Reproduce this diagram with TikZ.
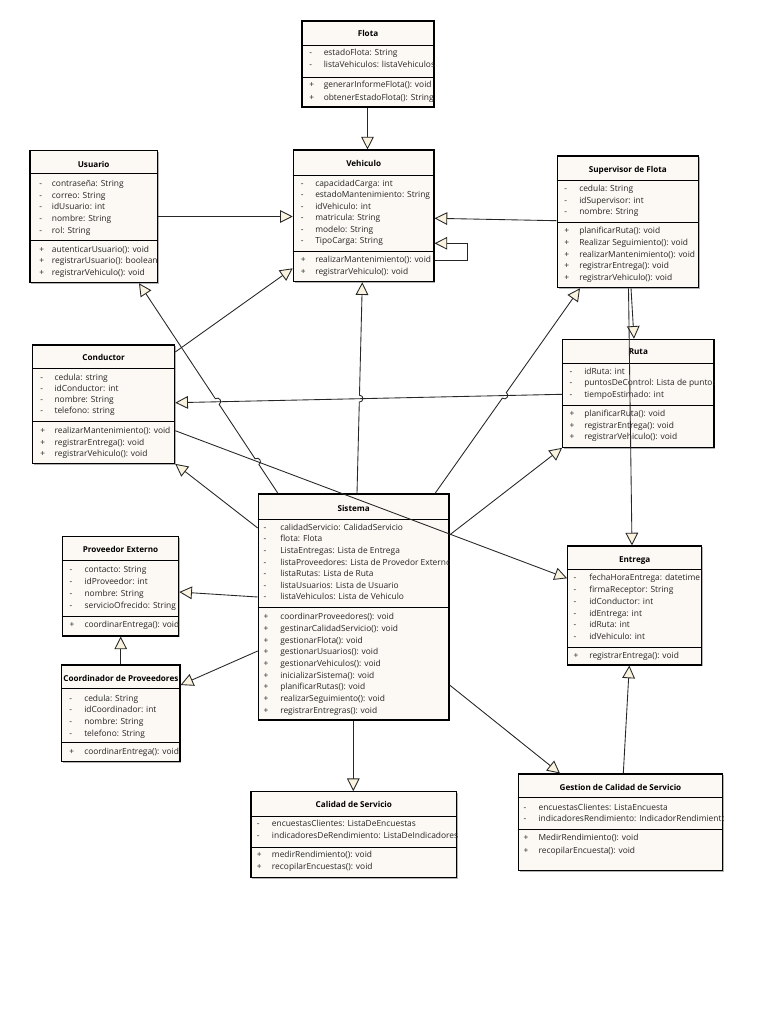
\documentclass[tikz,border=0pt]{standalone}
\usepackage{fontspec}
\setmainfont{Open Sans}
\usetikzlibrary{arrows.meta,calc,fit,shadows}
\definecolor{boxfill}{HTML}{FCF9F4}
\definecolor{arrowfill}{HTML}{FAF3DF}
\definecolor{txtc}{HTML}{262626}
\tikzset{
  classbox/.style={draw=black, line width=0.85pt, fill=boxfill, inner sep=0pt,
    drop shadow={shadow xshift=1.1pt, shadow yshift=-1.1pt, opacity=0.3, fill=black}},
  sepline/.style={draw=black, line width=0.7pt},
  ttl/.style={font=\fontsize{6.1}{7}\selectfont\bfseries, inner sep=0pt, anchor=base, text=black},
  mem/.style={font=\fontsize{6.3}{7.5}\selectfont, inner sep=0pt, anchor=base west, text=txtc},
  conn/.style={draw=black!85, line width=0.65pt, -{Triangle[length=9.5pt,width=9.5pt,fill=arrowfill]}},
}
\newcommand\umlclass[7]{%
  \node[classbox, fit={(#2,#3) (#4,#5)}] (#1) {};
  \draw[sepline] (#1.west |- 0,#6) -- (#1.east |- 0,#6);
  \draw[sepline] (#1.west |- 0,#7) -- (#1.east |- 0,#7);
}
\newcommand\clipbox[1]{\clip (#1.south west) rectangle (#1.north east);}
\newcommand\clstitle[3]{\node[ttl] (#1t) at (#1.north |- 0,#3) {#2};}
\newcommand\members[6]{%
  \foreach \mk/\tx [count=\i from 0] in {#6}{%
    \node[mem] (#1s\i) at (#2,{#4+\i*#5+3}) {\mk};
    \node[mem] (#1x\i) at (#3,{#4+\i*#5+3}) {\tx};
  }%
}
\newcommand\mkjump[4]{%
  \coordinate (#1m) at ($(#2)!#4!(#3)$);
  \coordinate (#1a) at ($(#1m)!2.6pt!(#2)$);
  \coordinate (#1b) at ($(#1m)!2.6pt!(#3)$);
  \coordinate (#1ca) at ($(#1a)!3.5pt!90:(#2)$);
  \coordinate (#1cb) at ($(#1b)!3.5pt!-90:(#3)$);
}
\begin{document}
\begin{tikzpicture}[x=0.75pt,y=-0.75pt]
\useasboundingbox (0,0) rectangle (768,1024);
\fill[white] (0,0) rectangle (768,1024);

% ---------- Flota
\umlclass{flota}{302}{21}{434}{107}{45.7}{77.5}
\begin{scope}\clipbox{flota}
\clstitle{flota}{Flota}{37}
\members{flotaa}{309}{323.5}{53}{12}{-/estadoFlota: String,-/listaVehiculos: listaVehiculos}
\members{flotam}{309}{323.5}{85}{12}{+/generarInformeFlota(): void,+/obtenerEstadoFlota(): String}
\end{scope}

% ---------- Vehiculo
\umlclass{vehi}{293.3}{150}{434}{281.7}{175.7}{251.7}
\begin{scope}\clipbox{vehi}
\clstitle{vehi}{Vehiculo}{166.3}
\members{vehia}{300.5}{315}{183.3}{11.5}{-/capacidadCarga: int,-/estadoMantenimiento: String,-/idVehiculo: int,-/matricula: String,-/modelo: String,-/TipoCarga: String}
\members{vehim}{300.5}{315}{259.5}{12}{+/realizarMantenimiento(): void,+/registrarVehiculo(): void}
\end{scope}

% ---------- Usuario
\umlclass{usu}{30}{150.7}{157.3}{282.7}{173.5}{240}
\begin{scope}\clipbox{usu}
\clstitle{usu}{Usuario}{167}
\members{usua}{39}{51.7}{183.3}{11.75}{-/contraseña: String,-/correo: String,-/idUsuario: int,-/nombre: String,-/rol: String}
\members{usum}{39}{51.7}{249}{11.8}{+/autenticarUsuario(): void,+/registrarUsuario(): boolean,+/registrarVehiculo(): void}
\end{scope}

% ---------- Conductor
\umlclass{cond}{32.7}{345}{174.7}{463.3}{368.3}{421.7}
\begin{scope}\clipbox{cond}
\clstitle{cond}{Conductor}{360.3}
\members{conda}{40}{54.3}{377.3}{11.1}{-/cedula: string,-/idConductor: int,-/nombre: String,-/telefono: string}
\members{condm}{40}{54.3}{430.7}{11.3}{+/realizarMantenimiento(): void,+/registrarEntrega(): void,+/registrarVehiculo(): void}
\end{scope}

% ---------- Supervisor de Flota
\umlclass{sup}{557.3}{156}{698.3}{287.7}{180.7}{222.7}
\begin{scope}\clipbox{sup}
\clstitle{sup}{Supervisor de Flota}{172}
\members{supa}{564}{579}{188.3}{11.7}{-/cedula: String,-/idSupervisor: int,-/nombre: String}
\members{supm}{564}{579}{230.7}{11.65}{+/planificarRuta(): void,+/Realizar Seguimiento(): void,+/realizarMantenimiento(): void,+/registrarEntrega(): void,+/registrarVehiculo(): void}
\end{scope}

% ---------- Ruta
\umlclass{ruta}{562.7}{339.3}{714}{447.3}{363.3}{405.7}
\begin{scope}\clipbox{ruta}
\clstitle{ruta}{Ruta}{354.7}
\members{rutaa}{569.3}{584}{371}{11.7}{-/idRuta: int,-/puntosDeControl: Lista de puntos,-/tiempoEstimado: int}
\members{rutam}{569.3}{584}{413.3}{11.7}{+/planificarRuta(): void,+/registrarEntrega(): void,+/registrarVehiculo(): void}
\end{scope}

% ---------- Sistema
\umlclass{sis}{258.3}{494}{449}{720}{519.3}{607.3}
\begin{scope}\clipbox{sis}
\clstitle{sis}{Sistema}{511}
\members{sisa}{263.3}{280}{527.3}{11.57}{-/calidadServicio: CalidadServicio,-/flota: Flota,-/ListaEntregas: Lista de Entrega,-/listaProveedores: Lista de Provedor Externo,-/listaRutas: Lista de Ruta,-/listaUsuarios: Lista de Usuario,-/listaVehiculos: Lista de Vehiculo}
\members{sism}{263.3}{280}{616.7}{11.67}{+/coordinarProveedores(): void,+/gestinarCalidadServicio(): void,+/gestionarFlota(): void,+/gestionarUsuarios(): void,+/gestionarVehiculos(): void,+/inicializarSistema(): void,+/planificarRutas(): void,+/realizarSeguimiento(): void,+/registrarEntregras(): void}
\end{scope}

% ---------- Proveedor Externo
\umlclass{prov}{62.3}{536.7}{178.7}{636}{560.7}{616}
\begin{scope}\clipbox{prov}
\clstitle{prov}{Proveedor Externo}{552.3}
\members{prova}{69.3}{84.3}{569.3}{11.9}{-/contacto: String,-/idProveedor: int,-/nombre: String,-/servicioOfrecido: String}
\members{provm}{69.3}{84.3}{624.5}{11.9}{+/coordinarEntrega(): void}
\end{scope}

% ---------- Coordinador de Proveedores
\umlclass{coord}{61.7}{665}{180}{761.7}{688.3}{742.7}
\begin{scope}\clipbox{coord}
\clstitle{coord}{Coordinador de Proveedores}{681.3}
\members{coorda}{69}{84}{698.3}{11.67}{-/cedula: String,-/idCoordinador: int,-/nombre: String,-/telefono: String}
\members{coordm}{69}{84}{751.7}{11.67}{+/coordinarEntrega(): void}
\end{scope}

% ---------- Entrega
\umlclass{ent}{567.7}{546}{701.7}{665}{569.3}{647.7}
\begin{scope}\clipbox{ent}
\clstitle{ent}{Entrega}{562}
\members{enta}{573.3}{589}{577.7}{11.8}{-/fechaHoraEntrega: datetime,-/firmaReceptor: String,-/idConductor: int,-/idEntrega: int,-/idRuta: int,-/idVehiculo: int}
\members{entm}{573.3}{589}{655.5}{11.8}{+/registrarEntrega(): void}
\end{scope}

% ---------- Calidad de Servicio
\umlclass{cal}{251}{791.7}{456.7}{877.3}{816}{847.5}
\begin{scope}\clipbox{cal}
\clstitle{cal}{Calidad de Servicio}{807}
\members{cala}{256.7}{271.7}{823.3}{12.4}{-/encuestasClientes: ListaDeEncuestas,-/indicadoresDeRendimiento: ListaDeIndicadores}
\members{calm}{256.7}{271.7}{854.5}{12.4}{+/medirRendimiento(): void,+/recopilarEncuestas(): void}
\end{scope}

% ---------- Gestion de Calidad de Servicio
\umlclass{ges}{518.3}{774}{722.7}{870.7}{797.3}{829.3}
\begin{scope}\clipbox{ges}
\clstitle{ges}{Gestion de Calidad de Servicio}{790.7}
\members{gesa}{523.3}{538.3}{807.3}{11}{-/encuestasClientes: ListaEncuesta,-/indicadoresRendimiento: IndicadorRendimiento}
\members{gesm}{523.3}{538.3}{837.3}{12.7}{+/MedirRendimiento(): void,+/recopilarEncuesta(): void}
\end{scope}

% ================= connectors
\draw[conn] (367.5,0 |- flota.south) -- (367.5,0 |- vehi.north);
\draw[conn] (usu.east |- 0,216.5) -- (vehi.west |- 0,216.5);
\draw[conn] (sup.west |- 0,220.7) -- (vehi.east |- 0,218.3);
\draw[conn] (vehi.east |- 0,260) -- ++(32.5,0) |- (vehi.east |- 0,243.3);
\draw[conn] (cond.east |- 0,352) -- (vehi.west |- 0,268.3);

% Sistema -> Usuario (with jumps)
\coordinate (l6a) at (278,0 |- sis.north);
\coordinate (l6b) at (139,0 |- usu.south);
\mkjump{ja}{l6a}{l6b}{0.151}
\mkjump{jb}{l6a}{l6b}{0.437}
\draw[conn] (l6a) -- (jaa) .. controls (jaca) and (jacb) .. (jab) -- (jba) .. controls (jbca) and (jbcb) .. (jbb) -- (l6b);

% Sistema -> Vehiculo
\coordinate (l7a) at (357,0 |- sis.north);
\coordinate (l7b) at (362.3,0 |- vehi.south);
\mkjump{jc}{l7a}{l7b}{0.449}
\draw[conn] (l7a) -- (jca) .. controls (jcca) and (jccb) .. (jcb) -- (l7b);

% Sistema -> Supervisor
\coordinate (l8a) at (435,0 |- sis.north);
\coordinate (l8b) at (580,0 |- sup.south);
\mkjump{jd}{l8a}{l8b}{0.478}
\draw[conn] (l8a) -- (jda) .. controls (jdca) and (jdcb) .. (jdb) -- (l8b);

\draw[conn] (ruta.west |- 0,394.3) -- (cond.east |- 0,402.7);
\draw[conn] (cond.east |- 0,430.7) -- (ent.west |- 0,578.3);
\draw[conn] (sis.west |- 0,528) -- (cond.south east);
\draw[conn] (sis.east |- 0,535) -- (ruta.south west);
\draw[conn] (631,0 |- sup.south) -- (634,0 |- ruta.north);
\draw[conn] (628.5,0 |- sup.south) -- (632,0 |- ent.north);
\draw[conn] (sis.west |- 0,597) -- (prov.east |- 0,592);
\draw[conn] (120.7,0 |- coord.north) -- (120.7,0 |- prov.south);
\draw[conn] (sis.west |- 0,651) -- (coord.east |- 0,685);
\draw[conn] (353.3,0 |- sis.south) -- (353.3,0 |- cal.north);
\draw[conn] (sis.east |- 0,685) -- (560,0 |- ges.north);
\draw[conn] (623.3,0 |- ges.north) -- (629.3,0 |- ent.south);
\end{tikzpicture}
\end{document}
